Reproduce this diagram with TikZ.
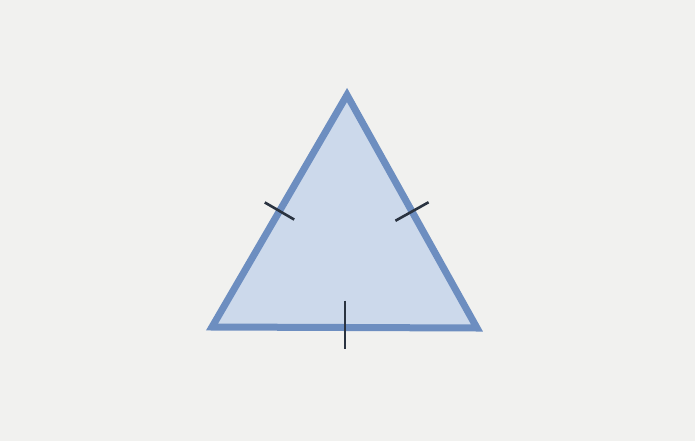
\documentclass[tikz,border=0pt]{standalone}
\usepackage{xcolor}
\usepackage{tikz}
\usetikzlibrary{calc}
\definecolor{PaperGrey}{HTML}{F1F1EF}
\definecolor{EdgeBlue}{HTML}{6D8EC0}
\definecolor{FaceBlue}{HTML}{CCD9EB}
\definecolor{TickInk}{HTML}{2A3340}

\begin{document}
\begin{tikzpicture}[
  x=1pt,y=-1pt,
  face/.style={draw=EdgeBlue,fill=FaceBlue,line width=7pt,line join=miter},
  tick/.style={draw=TickInk,line width=2.6pt}
]
\fill[PaperGrey] (0,0) rectangle (695,441);
\useasboundingbox (0,0) rectangle (695,441);
\coordinate (apex) at (347,95);
\coordinate (left) at (212,327);
\coordinate (right) at (477,328);
\draw[face] (apex) -- (left) -- (right) -- cycle;
% tick marks
\draw[tick] ($(apex)!0.5!(left)!17pt!90:(left)$) -- ($(apex)!0.5!(left)!17pt!-90:(left)$);
\draw[tick] ($(apex)!0.5!(right)!19pt!90:(right)$) -- ($(apex)!0.5!(right)!19pt!-90:(right)$);
\coordinate (base) at ($(left)!0.502!(right)$);
\draw[tick] ($(base)+(0,-27)$) -- ($(base)+(0,21)$);
\end{tikzpicture}
\end{document}
